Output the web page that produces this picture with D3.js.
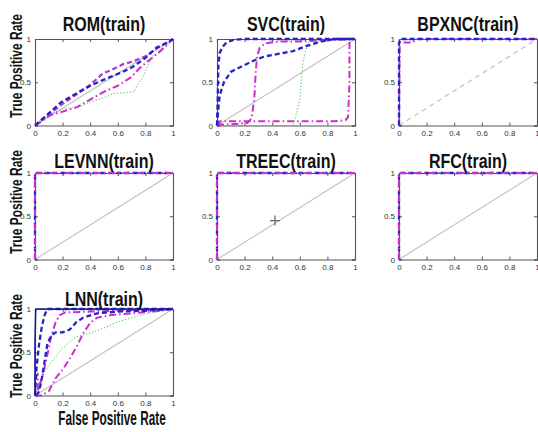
<!DOCTYPE html>
<html>
<head>
<meta charset="utf-8">
<script src="https://cdn.jsdelivr.net/npm/d3@7"></script>
<style>
  html, body { margin: 0; padding: 0; background: #fff; }
  svg { display: block; }
  .ttl { font-family: "Liberation Sans", Arial, sans-serif; font-weight: bold; fill: #111; }
  .tick-lbl { font-family: "Liberation Sans", Arial, sans-serif; font-size: 8px; fill: #333; }
</style>
</head>
<body>
<svg id="chart" width="538" height="432"></svg>
<script>
// ROC curves (false positive rate, true positive rate) for each classifier
const titles = ["ROM(train)", "SVC(train)", "BPXNC(train)", "LEVNN(train)", "TREEC(train)", "RFC(train)", "LNN(train)"];
const xTicks = [0, 0.2, 0.4, 0.6, 0.8, 1];
const yTicks = [0, 0.5, 1];
const xTickLabels = ["0", "0.2", "0.4", "0.6", "0.8", "1"];
const yTickLabels = ["0", "0.5", "1"];

const romBlue = [[0,0],[0.05,0.07],[0.1,0.14],[0.19,0.27],[0.3,0.37],[0.4,0.46],[0.5,0.53],[0.59,0.59],[0.65,0.63],[0.71,0.68],[0.8,0.78],[0.88,0.9],[0.95,0.95],[1,1]];
const romPurple = [[0,0],[0.1,0.13],[0.2,0.25],[0.3,0.36],[0.4,0.47],[0.49,0.6],[0.55,0.64],[0.64,0.71],[0.71,0.74],[0.8,0.8],[0.9,0.91],[1,1]];
const romMagenta = [[0,0],[0.05,0.05],[0.11,0.12],[0.2,0.16],[0.3,0.21],[0.4,0.3],[0.5,0.39],[0.6,0.46],[0.7,0.56],[0.75,0.65],[0.8,0.72],[0.9,0.85],[1,1]];
const romGreen = [[0,0],[0.05,0.08],[0.1,0.13],[0.2,0.19],[0.33,0.22],[0.4,0.27],[0.5,0.32],[0.57,0.37],[0.65,0.38],[0.72,0.39],[0.74,0.46],[0.78,0.55],[0.82,0.7],[0.85,0.8],[0.92,0.86],[1,1]];

const svcBlue1 = [[0,0],[0.005,0.3],[0.01,0.7],[0.02,0.84],[0.04,0.91],[0.07,0.96],[0.12,0.99],[0.2,1],[1,1]];
const svcBlue2 = [[0,0],[0.01,0.2],[0.02,0.35],[0.05,0.5],[0.1,0.62],[0.2,0.7],[0.28,0.76],[0.35,0.8],[0.45,0.83],[0.55,0.86],[0.65,0.92],[0.75,0.97],[0.85,1],[1,1]];
const svcMagenta1 = [[0,0.02],[0.05,0.01],[0.15,0.02],[0.22,0.03],[0.25,0.08],[0.27,0.3],[0.28,0.6],[0.29,0.8],[0.31,0.9],[0.35,0.95],[0.45,0.97],[0.6,0.97],[0.7,0.98],[1,1]];
const svcMagenta2 = [[0,0],[0.02,0.05],[0.1,0.05],[0.5,0.05],[0.85,0.05],[0.93,0.06],[0.95,0.1],[0.96,0.5],[0.96,0.95],[0.97,1],[1,1]];
const svcGreen = [[0,0],[0.55,0],[0.57,0.1],[0.6,0.3],[0.61,0.5],[0.62,0.7],[0.64,0.85],[0.66,0.95],[0.68,1],[1,1]];

const bpxBlue = [[0,0],[0,0.95],[0.01,1],[1,1]];
const bpxMagenta = [[0,0],[0.005,0.96],[0.1,0.96],[0.12,1],[1,1]];

const perfectBlue = [[0,0],[0,1],[1,1]];
const perfectMagenta = [[0,0],[0,1],[1,1]];

const lnnNavy = [[0,0],[0,0.6],[0.005,1],[1,1]];
const lnnBlue1 = [[0,0],[0.01,0.3],[0.03,0.6],[0.05,0.8],[0.07,0.93],[0.09,1],[1,1]];
const lnnBlue2 = [[0.01,0],[0.03,0.05],[0.05,0.2],[0.07,0.4],[0.09,0.6],[0.12,0.7],[0.15,0.73],[0.2,0.73],[0.25,0.76],[0.3,0.85],[0.35,0.9],[0.45,0.95],[0.6,0.97],[0.8,0.98],[1,1]];
const lnnMagenta1 = [[0,0.2],[0.02,0.25],[0.02,0.05],[0.05,0.2],[0.08,0.4],[0.1,0.55],[0.12,0.7],[0.15,0.85],[0.18,0.93],[0.22,0.96],[0.4,0.97],[1,1]];
const lnnMagenta2 = [[0,0],[0.05,0],[0.1,0.05],[0.15,0.2],[0.2,0.3],[0.25,0.42],[0.3,0.56],[0.35,0.72],[0.4,0.84],[0.45,0.9],[0.55,0.93],[0.7,0.95],[0.85,0.97],[1,1]];
const lnnGreen = [[0,0],[0.03,0.15],[0.06,0.25],[0.1,0.35],[0.15,0.45],[0.2,0.55],[0.25,0.62],[0.3,0.68],[0.4,0.72],[0.5,0.78],[0.6,0.85],[0.7,0.9],[0.8,0.94],[0.9,0.97],[1,1]];

// gray data cursor shown in the TREEC panel
const treecCursor = [0.42, 0.45];

// line styles for each curve kind
const styles = {
  blue:    { color: "#2323c8", width: 2.3, dash: "5,3" },
  navy:    { color: "#1a1a9a", width: 1.6, dash: null },
  purple:  { color: "#b035d0", width: 2.2, dash: "5,3" },
  magenta: { color: "#cc2ccc", width: 2.0, dash: "7,3,1.5,3" },
  green:   { color: "#4cbf4c", width: 1.0, dash: "1.2,2" }
};

const panels = [
  { title: titles[0], diag: "solid", curves: [["green", romGreen], ["magenta", romMagenta], ["purple", romPurple], ["blue", romBlue]] },
  { title: titles[1], diag: "solid", curves: [["green", svcGreen], ["magenta", svcMagenta2], ["magenta", svcMagenta1], ["blue", svcBlue2], ["blue", svcBlue1]] },
  { title: titles[2], diag: "dashed", curves: [["magenta", bpxMagenta], ["blue", bpxBlue]] },
  { title: titles[3], diag: "solid", curves: [["blue", perfectBlue], ["magenta", perfectMagenta]] },
  { title: titles[4], diag: "solid", curves: [["blue", perfectBlue], ["magenta", perfectMagenta]], cursor: treecCursor },
  { title: titles[5], diag: "solid", curves: [["blue", perfectBlue], ["magenta", perfectMagenta]] },
  { title: titles[6], diag: "solid", curves: [["green", lnnGreen], ["magenta", lnnMagenta2], ["magenta", lnnMagenta1], ["blue", lnnBlue2], ["blue", lnnBlue1], ["navy", lnnNavy]] }
];

// grid layout
const colX = [35, 217, 399];
const rowY = [39, 173, 309];
const boxW = 138, boxH = 86.5;
const titleGap = [8, 5, 3];
const yLabelCenter = [66, 202, 346];

const svg = d3.select("#chart");

// condensed bold text: a regular bold face squeezed horizontally
function narrowText(parent, cx, cy, str, size, sx, rotate) {
  return parent.append("text")
    .attr("class", "ttl")
    .attr("transform", `translate(${cx},${cy})${rotate ? " rotate(-90)" : ""} scale(${sx},1)`)
    .attr("text-anchor", "middle")
    .attr("font-size", size)
    .text(str);
}

panels.forEach((p, i) => {
  const col = i % 3, row = Math.floor(i / 3);
  const x0 = colX[col], y0 = rowY[row];
  const x = d3.scaleLinear().domain([0, 1]).range([x0, x0 + boxW]);
  const y = d3.scaleLinear().domain([0, 1]).range([y0 + boxH, y0]);
  const g = svg.append("g");

  // reference diagonal
  g.append("line")
    .attr("x1", x(0)).attr("y1", y(0)).attr("x2", x(1)).attr("y2", y(1))
    .attr("stroke", p.diag === "dashed" ? "#c4c4c4" : "#c0c0c0")
    .attr("stroke-width", p.diag === "dashed" ? 1.3 : 1.1)
    .attr("stroke-dasharray", p.diag === "dashed" ? "5,4" : null);

  // axes: tick marks point inward, labels on bottom/left only
  const bottom = d3.axisBottom(x).tickValues(xTicks).tickSize(-3).tickPadding(5)
    .tickFormat((d, k) => xTickLabels[k]);
  const left = d3.axisLeft(y).tickValues(yTicks).tickSize(-3).tickPadding(4)
    .tickFormat((d, k) => yTickLabels[k]);
  const top = d3.axisTop(x).tickValues(xTicks).tickSize(-3).tickFormat("");
  const right = d3.axisRight(y).tickValues(yTicks).tickSize(-3).tickFormat("");

  const axes = [
    [bottom, `translate(0,${y(0)})`],
    [left, `translate(${x(0)},0)`],
    [top, `translate(0,${y(1)})`],
    [right, `translate(${x(1)},0)`]
  ];
  axes.forEach(([ax, tr]) => {
    const a = g.append("g").attr("transform", tr).call(ax);
    a.select(".domain").attr("stroke", "#555").attr("stroke-width", 1.1);
    a.selectAll(".tick line").attr("stroke", "#555");
    a.selectAll(".tick text").attr("class", "tick-lbl").attr("font-size", null).attr("font-family", null);
  });

  // ROC curves
  const line = d3.line().x(d => x(d[0])).y(d => y(d[1]));
  p.curves.forEach(([kind, data]) => {
    const s = styles[kind];
    g.append("path")
      .datum(data)
      .attr("d", line)
      .attr("fill", "none")
      .attr("stroke", s.color)
      .attr("stroke-width", s.width)
      .attr("stroke-dasharray", s.dash)
      .attr("stroke-linejoin", "round");
  });

  if (p.cursor) {
    const cx = x(p.cursor[0]), cy = y(p.cursor[1]);
    g.append("path")
      .attr("d", `M${cx - 5},${cy}H${cx + 5}M${cx},${cy - 5}V${cy + 5}`)
      .attr("stroke", "#666").attr("stroke-width", 1.2);
  }

  // panel title
  narrowText(g, x(0.5), y0 - titleGap[row], p.title, 20, 0.8, false);

  // y axis label on the first column
  if (col === 0) {
    narrowText(g, 22, yLabelCenter[row], "True Positive Rate", 16, 0.75, true);
  }
});

// x axis label under the last panel
narrowText(svg, 112, 425, "False Positive Rate", 20, 0.59, false);
</script>
</body>
</html>
